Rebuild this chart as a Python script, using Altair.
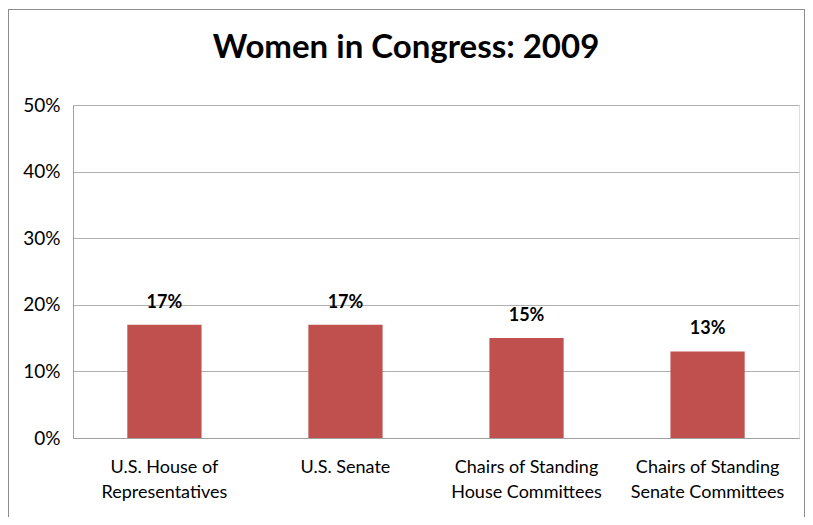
import altair as alt
import pandas as pd

categories = ["U.S. House of|Representatives", "U.S. Senate",
              "Chairs of Standing|House Committees", "Chairs of Standing|Senate Committees"]
shares = [0.17, 0.17, 0.15, 0.13]

df = pd.DataFrame({"cat": categories, "share": shares})

FONT = "Lato"
W, H = 726, 333

x = alt.X("cat:N", sort=categories, title=None,
          scale=alt.Scale(paddingInner=0.59, paddingOuter=0.3),
          axis=alt.Axis(labelAngle=0, labelExpr="split(datum.label, '|')",
                        labelFontSize=18, labelLineHeight=25, labelPadding=20,
                        labelColor="black", labelFont=FONT, ticks=False,
                        domainColor="#A0A0A0", grid=False))
y = alt.Y("share:Q", title=None,
          scale=alt.Scale(domain=[0, 0.5], nice=False),
          axis=alt.Axis(format=".0%", values=[0, 0.1, 0.2, 0.3, 0.4, 0.5],
                        labelFontSize=19, labelPadding=13, labelColor="black",
                        labelFont=FONT, ticks=False, domainColor="#A0A0A0",
                        gridColor="#B0B0B0"))

bars = alt.Chart(df).mark_bar(color="#C0504D").encode(x=x, y=y)
labels = alt.Chart(df).mark_text(font=FONT, fontWeight="bold", fontSize=18,
                                 baseline="middle", dy=-22, color="black").encode(
    x=alt.X("cat:N", sort=categories),
    y=alt.Y("share:Q"),
    text=alt.Text("share:Q", format=".0%"))

border = alt.Chart(df).mark_rect(fill=None, stroke="#8C8C8C", strokeWidth=1).encode(
    x=alt.value(-64.5), x2=alt.value(W + 5.5), y=alt.value(-95.5), y2=alt.value(H + 200))

chart = alt.layer(border, bars, labels).properties(
    width=W, height=H,
    title=alt.TitleParams("Women in Congress: 2009", font=FONT, fontSize=33,
                          fontWeight="bold", color="black", anchor="middle",
                          baseline="bottom", dx=-30, offset=-89),
    autosize=alt.AutoSizeParams(type="none"),
    padding={"left": 65, "top": 97, "right": 6, "bottom": 79},
).configure_view(stroke=None).configure(background="white")

chart.save("out.html", embed_options={"renderer": "svg", "actions": False})
